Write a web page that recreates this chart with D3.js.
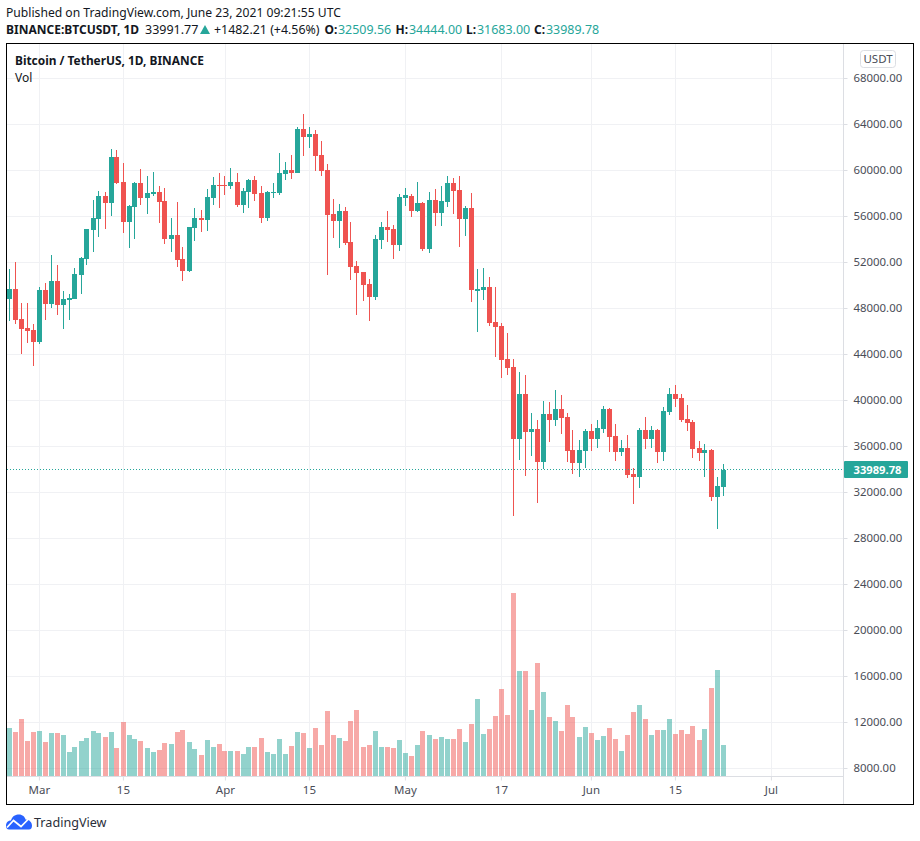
<!DOCTYPE html>
<html><head><meta charset="utf-8">
<style>html,body{margin:0;padding:0;background:#fff}svg{display:block}text{font-family:"Noto Sans",sans-serif}</style>
<script src="https://cdn.jsdelivr.net/npm/d3@7"></script></head><body>
<svg id="c" width="920" height="841"></svg>
<script>
const startDate = "2021-02-24";
const opens  = [48833,49674,47064,46281,46107,45063,49587,48369,50370,48282,48717,48804,50892,52284,54807,55764,57765,57156,61158,58983,55503,56808,58896,57591,57939,58113,57330,54024,54372,52284,51240,54981,55851,55677,57591,58722,58722,58635,58983,56982,58113,59157,58026,55851,58026,58026,59679,60027,59766,63594,62898,63159,61332,60027,56199,55590,56460,53763,51675,51153,50109,48978,53937,55068,54894,53502,57591,57765,56460,57156,53154,57417,56286,57243,58896,58287,55764,56721,49500,49587,49854,46809,46461,43590,42894,36630,40545,37239,37500,34629,38805,38283,39240,38544,35673,34542,35586,37326,36630,37506,39246,36897,35505,35853,33591,33330,37419,36636,37419,35505,38985,40551,40203,38376,38115,35853,35418,35679,31590,32510];
const closes = [49674,46977,46194,46020,45063,49587,48369,50370,48282,48804,48891,50979,52371,54894,55851,57765,57156,61158,58896,55503,56895,58896,57591,58026,58113,57243,54024,54372,52197,51240,55068,55851,55677,57678,58722,58635,58635,58983,56982,58200,59157,57939,55851,58113,58113,59766,60027,59766,63594,62898,63159,61245,59940,56112,55590,56460,53676,51588,51066,50022,48978,54024,55068,54807,53502,57678,57852,56460,57156,53154,57417,56286,57330,58896,58200,55764,56721,49587,49674,49848,46722,46374,43503,42807,36630,40545,37239,37500,34629,38805,38283,39240,38457,35586,34542,35673,37326,36630,37587,39246,36810,35505,35853,33504,33330,37419,36636,37419,35505,39072,40551,40116,38289,38028,35766,35418,35679,31590,32547,33990];
const highs  = [51414,52023,48456,48456,46629,49848,50196,52632,51762,49500,49239,51501,52458,54894,57417,58200,58113,61854,61767,60636,56982,58983,60114,59505,59853,58635,58461,55851,57243,53328,55068,56721,56547,58374,59418,59766,59505,60201,59766,58461,59244,59505,58635,58200,58896,61506,60723,61332,63768,64899,63768,63507,62550,60549,57504,57069,56808,55503,52110,51153,50544,54372,55503,56460,55242,57939,58461,57939,58983,57243,58113,58374,58635,59505,59331,59505,56895,58026,51414,51501,50724,49854,46722,45852,43590,42459,42198,38892,38283,39936,39849,40893,40458,38892,37413,36543,37500,37935,38283,39507,39333,37941,36549,36984,34113,37593,38550,37767,37506,39420,41073,41334,40551,39594,38289,36462,36201,35766,33330,34444];
const lows   = [46919,46658,44019,45005,42975,44889,46977,48021,47412,46194,46977,48804,49239,51762,52893,54198,54894,56025,58850,54546,53241,54024,56982,56199,57765,55416,53589,52893,51588,50370,51153,53850,54633,54720,56982,56721,57852,58374,56808,56286,56721,57330,55416,55590,57591,57852,59157,59244,59766,61245,61941,59940,59505,50892,54111,53241,53502,50457,47412,48630,46890,48717,53154,53763,52284,52980,56895,55938,56373,52980,52806,55155,55155,56808,56199,53328,54285,48543,45933,48717,46461,43764,41937,42198,29931,34803,33411,35151,31062,34030,36369,37761,37065,34629,33585,33324,34107,35586,35847,37158,35505,34722,35157,33243,30981,32373,35766,35853,34548,34722,38724,39420,38115,37332,34983,34722,33330,31242,28806,31683];
const volumes = [72,66,85.5,52.5,66,67.5,51,64.5,64.5,61.5,36,43.5,52.5,57,67.5,64.5,58.5,66,42,81,61.5,55.5,52.5,42,36,39,49.5,48,66,69,51,40.5,31.5,54,43.5,48,37.5,37.5,37.5,33,43.5,43.5,57,36,33,55.5,33,45,66,64.5,42,72,46.5,97.5,61.5,57,52.5,82.5,99,43.5,46.5,67.5,43.5,43.5,42,54,34.5,30,46.5,67.5,61.5,55.5,58.5,55.5,55.5,70.5,51,78,115.5,63,70.5,90,130.5,91.5,274.5,157.5,157.5,99,169.5,126,88.5,82.5,67.5,106.5,88.5,58.5,73.5,64.5,54,60,72,55.5,37.5,61.5,96,106.5,85.5,61.5,69,69,85.5,63,69,63,75,54,70.5,132,159,46.5];
const priceTicks = [68000,64000,60000,56000,52000,48000,44000,40000,36000,32000,28000,24000,20000,16000,12000,8000];
const timeTicks = [["2021-03-01","Mar"],["2021-03-15","15"],["2021-04-01","Apr"],["2021-04-15","15"],["2021-05-01","May"],["2021-05-17","17"],["2021-06-01","Jun"],["2021-06-15","15"],["2021-07-01","Jul"]];
const lastPrice = 33989.78;
const headerLine1 = "Published on TradingView.com, June 23, 2021 09:21:55 UTC";
const up="#26a69a",down="#ef5350",grid="#f0f1f4",axisLine="#dcdee3",textC="#4a4d57",ink="#131722";

const svg=d3.select("#c");
const day=i=>d3.utcDay.offset(new Date(startDate+"T00:00:00Z"),i);
const x=d3.scaleUtc().domain([day(0),day(100)]).range([9.4,609.4]);
const y=d3.scaleLinear().domain([68000,8000]).range([78.5,768.5]);
const vy=d3.scaleLinear().domain([0,274.5]).range([776,593]);
const tickDate=d=>new Date(d[0]+"T00:00:00Z");
const L=6.5,R=913.5,T=43.5,B=804.5,PA=843.5,TA=776.5;

// grid
const g=svg.append("g").attr("shape-rendering","crispEdges");
g.selectAll(".h").data(priceTicks).join("line").attr("x1",L).attr("x2",PA).attr("y1",d=>Math.floor(y(d))+.5).attr("y2",d=>Math.floor(y(d))+.5).attr("stroke",grid);
g.selectAll(".v").data(timeTicks).join("line").attr("y1",T).attr("y2",TA).attr("x1",d=>Math.floor(x(tickDate(d)))+.5).attr("x2",d=>Math.floor(x(tickDate(d)))+.5).attr("stroke",grid);

// volume
const idx=d3.range(opens.length);
svg.append("g").attr("shape-rendering","crispEdges").selectAll("rect").data(idx).join("rect")
 .attr("x",i=>Math.round(x(day(i))-2.9)).attr("width",5)
 .attr("y",i=>vy(volumes[i])).attr("height",i=>vy(0)-vy(volumes[i]))
 .attr("fill",i=>closes[i]>=opens[i]?up:down).attr("fill-opacity",.5);

// candles
const cg=svg.append("g").attr("shape-rendering","crispEdges");
cg.selectAll("line").data(idx).join("line")
 .attr("x1",i=>Math.round(x(day(i))-.9)+.5).attr("x2",i=>Math.round(x(day(i))-.9)+.5)
 .attr("y1",i=>y(highs[i])).attr("y2",i=>y(lows[i]))
 .attr("stroke",i=>closes[i]>=opens[i]?up:down);
cg.selectAll("rect").data(idx).join("rect")
 .attr("x",i=>Math.round(x(day(i))-2.9)).attr("width",5)
 .attr("y",i=>y(Math.max(opens[i],closes[i])))
 .attr("height",i=>Math.max(1,Math.abs(y(opens[i])-y(closes[i]))))
 .attr("fill",i=>closes[i]>=opens[i]?up:down);

// last price line
svg.append("line").attr("x1",L).attr("x2",PA).attr("y1",Math.floor(y(lastPrice))+.5).attr("y2",Math.floor(y(lastPrice))+.5)
 .attr("stroke",up).attr("stroke-dasharray","1 2").attr("shape-rendering","crispEdges");

// axes
const ay=d3.axisRight(y).tickValues(priceTicks).tickSize(4).tickPadding(6).offset(0).tickFormat(d=>d3.format(".2f")(d));
const ag=svg.append("g").attr("transform",`translate(${PA},0)`).call(ay);
ag.select(".domain").remove();
ag.selectAll("line").attr("stroke",axisLine);
ag.selectAll("text").attr("fill",textC).style("font-size","11.4px");
const ax=d3.axisBottom(x).tickValues(timeTicks.map(tickDate)).tickSize(4).tickPadding(5).offset(0).tickFormat((d,i)=>timeTicks[i][1]);
const xg=svg.append("g").attr("transform",`translate(0,${TA})`).call(ax);
xg.select(".domain").remove();
xg.selectAll("line").attr("stroke",axisLine);
xg.selectAll("text").attr("fill",textC).style("font-size","11.5px");

// separators and frame
svg.append("line").attr("x1",L).attr("x2",PA).attr("y1",TA).attr("y2",TA).attr("stroke",axisLine).attr("shape-rendering","crispEdges");
svg.append("line").attr("x1",PA).attr("x2",PA).attr("y1",T).attr("y2",B).attr("stroke",axisLine).attr("shape-rendering","crispEdges");
svg.append("rect").attr("x",L).attr("y",T).attr("width",R-L).attr("height",B-T).attr("fill","none").attr("stroke","#000").attr("shape-rendering","crispEdges");

// last price label
const ly=y(lastPrice);
svg.append("rect").attr("x",844).attr("y",ly-8.5).attr("width",64).attr("height",17).attr("rx",1).attr("fill",up);
svg.append("text").attr("x",877.5).attr("y",ly+4.1).attr("text-anchor","middle").attr("fill","#fff").attr("font-weight",700).style("font-size","11.2px").text(lastPrice.toFixed(2));

// USDT box
svg.append("rect").attr("x",860.5).attr("y",50.5).attr("width",35).attr("height",17).attr("rx",3).attr("fill","#fff").attr("stroke","#dcdee3");
svg.append("text").attr("x",878).attr("y",63).attr("text-anchor","middle").attr("fill",textC).style("font-size","11.5px").text("USDT");

// titles
const t=(xx,yy,s,o={})=>svg.append("text").attr("x",xx).attr("y",yy).attr("fill",o.c||ink).attr("font-weight",o.b?700:400).style("font-size",(o.s||12)+"px").text(s);
t(6,17,headerLine1,{s:12.15});
t(6,34,"BINANCE:BTCUSDT, 1D",{b:1});
t(145,34,"33991.77",{s:12.5});
svg.append("path").attr("d","M200 34 L205 25 L210 34 Z").attr("fill",up);
t(214,34,"+1482.21 (+4.56%)",{s:12.4});
t(324.5,34,"O:",{b:1});t(338,34,"32509.56",{c:up,s:12.45});
t(395.5,34,"H:",{b:1});t(409,34,"34444.00",{c:up,s:12.45});
t(466,34,"L:",{b:1});t(477,34,"31683.00",{c:up,s:12.45});
t(534,34,"C:",{b:1});t(546,34,"33989.78",{c:up,s:12.45});
t(15,65,"Bitcoin / TetherUS, 1D, BINANCE",{b:1,s:11.9});
t(15,82,"Vol");

// logo
svg.append("path").attr("d","M6 826 C6 822 8.5 820.5 11 820.5 C12 816 16 814.5 19 814.5 C22.5 814.5 25 817 25.5 819.5 C29.5 819.5 32 822.5 32 825.5 C32 828 31 829.5 29 829.5 L9 829.5 C7 829.5 6 828 6 826 Z").attr("fill","#2962ff");
svg.append("path").attr("d","M7 827.5 L13.5 820.5 L21 826.5 L28.5 819").attr("fill","none").attr("stroke","#fff").attr("stroke-width",1.7);
t(34,827,"TradingView",{s:12.6,c:"#2a2e39"});
</script></body></html>
